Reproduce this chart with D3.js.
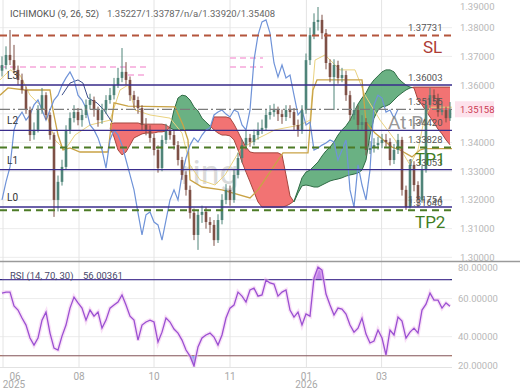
<!DOCTYPE html>
<html>
<head>
<meta charset="utf-8">
<script src="https://cdnjs.cloudflare.com/ajax/libs/d3/7.8.5/d3.min.js"></script>
<style>
  body { margin: 0; background: #fff; }
  svg { display: block; font-family: Roboto, "Noto Sans", sans-serif; }
</style>
</head>
<body>
<svg id="chart" width="520" height="390"></svg>
<script>
// ---- data (one bar = one slot, open = previous close) ----
var firstOpen = 1.3650;
var closes = [
  1.3670,1.3705,1.3687,1.3653,1.3618,1.3583,1.3513,1.3426,1.3444,1.3513,
  1.3565,1.3496,1.3426,1.3200,1.3263,1.3315,1.3444,1.3485,1.3506,1.3478,
  1.3496,1.3531,1.3548,1.3513,1.3478,1.3513,1.3548,1.3565,1.3600,1.3625,
  1.3646,1.3618,1.3565,1.3548,1.3520,1.3461,1.3444,1.3416,1.3374,1.3311,
  1.3409,1.3444,1.3426,1.3391,1.3339,1.3287,1.3235,1.3155,1.3078,1.3148,
  1.3158,1.3123,1.3113,1.3060,1.3130,1.3200,1.3235,1.3200,1.3287,1.3346,
  1.3391,1.3416,1.3402,1.3426,1.3444,1.3451,1.3496,1.3506,1.3513,1.3499,
  1.3489,1.3513,1.3506,1.3461,1.3444,1.3513,1.3687,1.3774,1.3820,1.3827,
  1.3781,1.3677,1.3628,1.3670,1.3625,1.3635,1.3565,1.3496,1.3513,1.3461,
  1.3471,1.3374,1.3381,1.3391,1.3398,1.3409,1.3402,1.3339,1.3374,1.3409,
  1.3235,1.3175,1.3322,1.3252,1.3200,1.3304,1.3531,1.3565,1.3555,1.3506,
  1.3513,1.3485,1.35158];
var highs = [
  1.3700,1.3735,1.3792,1.3740,1.3668,1.3640,1.3595,1.3525,1.3470,1.3530,
  1.3590,1.3575,1.3505,1.3435,1.3285,1.3340,1.3460,1.3505,1.3530,1.3520,
  1.3515,1.3550,1.3570,1.3560,1.3525,1.3535,1.3565,1.3590,1.3625,1.3660,
  1.3729,1.3680,1.3630,1.3580,1.3560,1.3530,1.3485,1.3460,1.3430,1.3390,
  1.3425,1.3465,1.3460,1.3440,1.3405,1.3350,1.3300,1.3250,1.3170,1.3165,
  1.3180,1.3175,1.3140,1.3130,1.3150,1.3220,1.3255,1.3250,1.3305,1.3365,
  1.3410,1.3440,1.3430,1.3445,1.3470,1.3480,1.3515,1.3530,1.3535,1.3525,
  1.3515,1.3530,1.3530,1.3520,1.3480,1.3530,1.3710,1.3800,1.3850,1.3872,
  1.3845,1.3795,1.3690,1.3690,1.3685,1.3660,1.3650,1.3580,1.3540,1.3530,
  1.3495,1.3485,1.3405,1.3415,1.3420,1.3430,1.3430,1.3415,1.3395,1.3430,
  1.3420,1.3250,1.3340,1.3335,1.3265,1.3320,1.3550,1.3590,1.3585,1.3570,
  1.3535,1.3525,1.3541];
var lows = [
  1.3630,1.3655,1.3670,1.3640,1.3600,1.3570,1.3500,1.3405,1.3410,1.3435,
  1.3500,1.3480,1.3410,1.3141,1.3160,1.3250,1.3305,1.3430,1.3470,1.3460,
  1.3455,1.3485,1.3515,1.3490,1.3455,1.3465,1.3500,1.3535,1.3550,1.3590,
  1.3610,1.3600,1.3545,1.3520,1.3500,1.3440,1.3425,1.3400,1.3355,1.3295,
  1.3300,1.3395,1.3410,1.3375,1.3320,1.3270,1.3215,1.3135,1.3060,1.3026,
  1.3120,1.3100,1.3085,1.3040,1.3050,1.3115,1.3185,1.3180,1.3190,1.3275,
  1.3330,1.3375,1.3385,1.3390,1.3410,1.3430,1.3440,1.3480,1.3490,1.3475,
  1.3465,1.3475,1.3485,1.3440,1.3420,1.3430,1.3500,1.3670,1.3760,1.3790,
  1.3760,1.3655,1.3610,1.3513,1.3605,1.3610,1.3545,1.3475,1.3480,1.3440,
  1.3445,1.3355,1.3360,1.3365,1.3375,1.3380,1.3385,1.3320,1.3325,1.3360,
  1.3215,1.3165,1.3170,1.3230,1.3175,1.3190,1.3295,1.3520,1.3540,1.3490,
  1.3495,1.3470,1.3475];
var rsiValues = [
  62.9,63.4,63.4,56.1,54.0,49.8,46.1,39.3,35.6,39.3,
  48.7,52.9,41.9,34.0,33.0,40.3,46.1,55.0,60.8,57.7,
  55.0,48.7,54.0,50.8,52.9,44.5,48.7,55.0,56.6,58.2,
  61.9,56.6,50.8,48.7,38.2,46.1,47.7,48.7,47.7,37.2,
  42.4,49.8,47.7,44.0,41.9,38.2,33.0,29.8,24.6,34.6,
  39.3,40.9,41.9,39.8,35.6,40.9,49.8,55.0,56.6,63.4,
  61.3,58.2,64.5,65.5,61.3,61.9,69.7,68.2,67.6,61.3,
  63.4,64.5,54.0,50.3,52.9,46.1,51.9,50.8,70.8,76.6,
  75.0,62.4,56.6,51.4,55.0,54.5,51.9,46.1,42.4,44.5,
  49.8,41.4,36.7,37.7,43.5,39.3,30.4,43.5,40.9,50.3,
  48.2,39.3,42.4,44.5,41.9,54.0,57.1,62.9,59.2,59.2,
  55.0,57.7,56.0];

// kumo spans, starting at bar cloudStart
var cloudStart = 27;
var spanA = [
  1.3451,1.3419,1.3374,1.3357,1.3367,1.3391,1.3416,1.3423,1.3430,1.3433,
  1.3433,1.3433,1.3437,1.3437,1.3440,1.3452,1.3513,1.3555,1.3565,1.3562,
  1.3548,1.3524,1.3510,1.3485,1.3471,1.3458,1.3444,1.3433,1.3426,1.3426,
  1.3423,1.3409,1.3374,1.3332,1.3297,1.3263,1.3228,1.3193,1.3175,1.3175,
  1.3175,1.3175,1.3175,1.3175,1.3179,1.3186,1.3196,1.3235,1.3277,1.3297,
  1.3304,1.3318,1.3332,1.3353,1.3371,1.3384,1.3402,1.3426,1.3444,1.3458,
  1.3478,1.3506,1.3534,1.3555,1.3573,1.3600,1.3618,1.3632,1.3646,1.3653,
  1.3653,1.3646,1.3625,1.3611,1.3600,1.3593,1.3590,1.3548,1.3531,1.3510,
  1.3489,1.3468,1.3447,1.3430,1.3409,1.3392];
var spanB = [
  1.3464,1.3468,1.3468,1.3468,1.3468,1.3468,1.3468,1.3468,1.3464,1.3464,
  1.3464,1.3464,1.3464,1.3464,1.3461,1.3451,1.3444,1.3444,1.3444,1.3444,
  1.3444,1.3444,1.3444,1.3444,1.3444,1.3444,1.3489,1.3489,1.3489,1.3489,
  1.3485,1.3464,1.3437,1.3409,1.3384,1.3367,1.3364,1.3364,1.3364,1.3364,
  1.3364,1.3364,1.3364,1.3357,1.3287,1.3214,1.3193,1.3224,1.3249,1.3252,
  1.3249,1.3245,1.3245,1.3252,1.3259,1.3266,1.3270,1.3273,1.3277,1.3283,
  1.3287,1.3290,1.3294,1.3304,1.3339,1.3426,1.3485,1.3513,1.3524,1.3527,
  1.3534,1.3548,1.3562,1.3573,1.3583,1.3590,1.3593,1.3593,1.3593,1.3593,
  1.3593,1.3593,1.3593,1.3593,1.3593,1.3593];

// [bar, price]
var kijun = [[-0.5,1.3565],[1.5,1.3590],[5.75,1.3583],[12,1.3583],[12.75,1.3513],[14,1.3426],
  [15.25,1.3374],[17,1.3381],[19.5,1.3367],[26.5,1.3367],[28,1.3538],[31.5,1.3527],[43.25,1.3524],
  [45.25,1.3461],[46.5,1.3409],[47,1.3270],[50,1.3245],[55,1.3235],[62,1.3207],[64,1.3235],
  [70.25,1.3364],[76.5,1.3364],[77.75,1.3583],[78.75,1.3618],[90,1.3618],[91,1.3471],[93.25,1.3433],
  [97.5,1.3384],[99.5,1.3374],[102.5,1.3350],[104.5,1.3374],[105.75,1.3379],[112.5,1.3379]];
var tenkan = [[-0.5,1.3618],[2,1.3653],[4.5,1.3635],[7,1.3565],[10.75,1.3513],[13.25,1.3409],
  [15.75,1.3374],[18.25,1.3426],[22,1.3461],[27,1.3478],[29.5,1.3583],[31.5,1.3600],[33.25,1.3513],
  [37,1.3496],[42,1.3485],[45,1.3433],[47,1.3322],[49.5,1.3270],[53.25,1.3252],[55.75,1.3287],
  [59.5,1.3374],[63.25,1.3409],[68.25,1.3444],[74.5,1.3461],[77,1.3478],[78.25,1.3687],[80.75,1.3705],
  [84.5,1.3653],[88.25,1.3653],[90.75,1.3565],[94.5,1.3478],[98.25,1.3409],[102,1.3322],[104,1.3374],
  [105.5,1.3478],[107,1.3523],[112.5,1.3523]];
var navyLine = [[15,1.3565],[17,1.3607],[19,1.3618],[20.25,1.3607],[21.5,1.3555],[23.75,1.3538],
  [25.5,1.3513],[27.5,1.3471]];
var chikouShift = 13;

// faint pink order lines: [price, fromBar, toBar]
var pinkDashes = [[1.3663,-0.5,36.5],[1.3635,31.5,36.5],[1.3694,57,65.25],[1.3663,57,65.25]];

var monthTicks = [0.25, 19.25, 38, 57, 76.1, 94.9];
var monthLabels = ["06","08","10","11","01","03"];
var yearLabels = ["2025","","","","2026",""];
var priceTicks = [1.30,1.31,1.32,1.33,1.34,1.35,1.36,1.37,1.38,1.39];
var rsiTicks = [20,40,60,80];
var rsiBands = [70, 30];

var levelNames = ["L3","L2","L1","L0"];
var levelPrices = [1.36003,1.34420,1.33053,1.31754];
var targetNames = ["SL","TP1","TP2"];
var targetPrices = [1.37731,1.33828,1.31640];
var markPrice = 1.35155;
var lastPrice = 1.35158;
var entryLabel = "At P";
var ichimokuTitle = "ICHIMOKU (9, 26, 52)";
var ichimokuValues = ["1.35227","1.33787","n/a","1.33920","1.35408"];
var rsiTitle = "RSI (14, 70, 30)";
var rsiLast = "56.00361";

// ---- scales ----
var x = d3.scaleLinear().domain([0, 112]).range([2, 450]);
var y = d3.scaleLinear().domain([1.29873, 1.38964]).range([261, 0]);
var yr = d3.scaleLinear().domain([24.1, 79.2]).range([367, 262]);
var left = x(-0.5), right = x(112.5);
var mainBottom = 261, rsiTop = 262, rsiBottom = 367;
var fmt5 = d3.format(".5f");

var svg = d3.select("#chart");
var defs = svg.append("defs");
defs.append("clipPath").attr("id", "mainClip").append("rect")
    .attr("x", left).attr("y", 0).attr("width", right - left).attr("height", mainBottom);
defs.append("clipPath").attr("id", "rsiClip").append("rect")
    .attr("x", left).attr("y", rsiTop).attr("width", right - left).attr("height", rsiBottom - rsiTop);
defs.append("clipPath").attr("id", "overClip").append("rect")
    .attr("x", left).attr("y", rsiTop).attr("width", right - left).attr("height", yr(rsiBands[0]) - rsiTop);
defs.append("clipPath").attr("id", "underClip").append("rect")
    .attr("x", left).attr("y", yr(rsiBands[1])).attr("width", right - left).attr("height", rsiBottom - yr(rsiBands[1]));

// ---- grid ----
var grid = svg.append("g");
grid.selectAll(".hg").data(priceTicks.filter(function (p) { return y(p) > 2; }))
  .enter().append("line")
    .attr("x1", left).attr("x2", right)
    .attr("y1", function (d) { return y(d); }).attr("y2", function (d) { return y(d); })
    .attr("stroke", "#ececec");
grid.selectAll(".rg").data([40, 60])
  .enter().append("line")
    .attr("x1", left).attr("x2", right)
    .attr("y1", function (d) { return yr(d); }).attr("y2", function (d) { return yr(d); })
    .attr("stroke", "#ececec");
grid.selectAll(".vg").data(monthTicks)
  .enter().append("line")
    .attr("x1", function (d) { return x(d); }).attr("x2", function (d) { return x(d); })
    .attr("y1", 0).attr("y2", rsiBottom)
    .attr("stroke", "#e4e4e4");

// watermark
svg.append("text").attr("x", 181).attr("y", 184)
    .attr("font-size", 34).attr("fill", "#dadada").text("ring");

var plot = svg.append("g").attr("clip-path", "url(#mainClip)");

// ---- kumo ----
var pts = [];
spanA.forEach(function (a, i) {
    var b = spanB[i], bar = cloudStart + i;
    if (i > 0) {
        var d0 = spanA[i - 1] - spanB[i - 1], d1 = a - b;
        if (d0 * d1 < 0) {
            var t = d0 / (d0 - d1);
            var v = spanA[i - 1] + t * (a - spanA[i - 1]);
            pts.push({bar: bar - 1 + t, a: v, b: v, cross: true});
        }
    }
    pts.push({bar: bar, a: a, b: b});
});
var runs = [], cur = null;
pts.forEach(function (p) {
    if (p.cross) {
        if (cur) cur.pts.push(p);
        cur = {green: null, pts: [p]};
        runs.push(cur);
        return;
    }
    var g = p.a >= p.b;
    if (!cur) { cur = {green: g, pts: [p]}; runs.push(cur); return; }
    if (cur.green === null) cur.green = g;
    cur.pts.push(p);
});

var kumoArea = d3.area()
    .x(function (d) { return x(d.bar); })
    .y0(function (d) { return y(d.b); })
    .y1(function (d) { return y(d.a); });
var lineA = d3.line().x(function (d) { return x(d.bar); }).y(function (d) { return y(d.a); });
var lineB = d3.line().x(function (d) { return x(d.bar); }).y(function (d) { return y(d.b); });

var kumo = plot.append("g");
runs.forEach(function (r) {
    kumo.append("path").attr("d", kumoArea(r.pts))
        .attr("fill", r.green ? "#62ad7c" : "#f16c6c").attr("fill-opacity", 0.95);
    kumo.append("path").attr("d", lineA(r.pts)).attr("fill", "none")
        .attr("stroke", r.green ? "#2f6b45" : "#a5473f").attr("stroke-width", 1);
    kumo.append("path").attr("d", lineB(r.pts)).attr("fill", "none")
        .attr("stroke", r.green ? "#2f6b45" : "#a5473f").attr("stroke-width", 1);
});

// pink old order lines
plot.selectAll(".pink").data(pinkDashes)
  .enter().append("line")
    .attr("x1", function (d) { return x(d[1]); }).attr("x2", function (d) { return x(d[2]); })
    .attr("y1", function (d) { return y(d[0]); }).attr("y2", function (d) { return y(d[0]); })
    .attr("stroke", "#f6a6da").attr("stroke-width", 1.5).attr("stroke-dasharray", "6,4");

// ---- ichimoku lines ----
var pairLine = d3.line().x(function (d) { return x(d[0]); }).y(function (d) { return y(d[1]); });
plot.append("path").attr("d", pairLine(tenkan)).attr("fill", "none")
    .attr("stroke", "#ead27f").attr("stroke-width", 1);
plot.append("path").attr("d", pairLine(kijun)).attr("fill", "none")
    .attr("stroke", "#c9a346").attr("stroke-width", 1.3);
plot.append("path").attr("d", pairLine(navyLine)).attr("fill", "none")
    .attr("stroke", "#3c4f8c").attr("stroke-width", 1);

// chikou: close drawn chikouShift bars back
var chikou = closes.slice(chikouShift);
plot.append("path")
    .attr("d", d3.line().x(function (d, i) { return x(i); }).y(function (d) { return y(d); })(chikou))
    .attr("fill", "none").attr("stroke", "#6f93d8").attr("stroke-width", 1.2);

// ---- candles ----
var bars = closes.map(function (c, i) {
    return {i: i, o: i ? closes[i - 1] : firstOpen, c: c, h: highs[i], l: lows[i]};
});
var bull = "#4f8479", bear = "#7e5046";
var cg = plot.append("g");
cg.selectAll("line").data(bars).enter().append("line")
    .attr("x1", function (d) { return x(d.i); }).attr("x2", function (d) { return x(d.i); })
    .attr("y1", function (d) { return y(d.h); }).attr("y2", function (d) { return y(d.l); })
    .attr("stroke", function (d) { return d.c >= d.o ? bull : bear; }).attr("stroke-width", 1);
cg.selectAll("rect").data(bars).enter().append("rect")
    .attr("x", function (d) { return x(d.i) - 1.3; }).attr("width", 2.6)
    .attr("y", function (d) { return y(Math.max(d.o, d.c)); })
    .attr("height", function (d) { return Math.max(1, Math.abs(y(d.o) - y(d.c))); })
    .attr("fill", function (d) { return d.c >= d.o ? bull : bear; });

// ---- level lines ----
var lv = svg.append("g");
lv.selectAll(".lvl").data(levelPrices).enter().append("line")
    .attr("x1", left).attr("x2", right)
    .attr("y1", function (d) { return y(d); }).attr("y2", function (d) { return y(d); })
    .attr("stroke", "#3a2d8c").attr("stroke-width", 1.3);
lv.append("line").attr("x1", left).attr("x2", right)
    .attr("y1", y(markPrice)).attr("y2", y(markPrice))
    .attr("stroke", "#7c7c7c").attr("stroke-width", 1.2).attr("stroke-dasharray", "10,3,2,3");
lv.selectAll(".tgt").data(targetPrices).enter().append("line")
    .attr("x1", left).attr("x2", right)
    .attr("y1", function (d) { return y(d); }).attr("y2", function (d) { return y(d); })
    .attr("stroke", function (d, i) { return i === 0 ? "#b4553c" : "#4d7b27"; })
    .attr("stroke-width", 2).attr("stroke-dasharray", "7,5");

// level names on the left
lv.selectAll(".lname").data(levelNames).enter().append("text")
    .attr("x", 7).attr("y", function (d, i) { return y(levelPrices[i]) - 6; })
    .attr("font-size", 10).attr("fill", "#333").text(function (d) { return d; });

// price tags on the lines
var tagPrices = [targetPrices[0], levelPrices[0], markPrice, levelPrices[1], targetPrices[1],
                 levelPrices[2], levelPrices[3], targetPrices[2]];
lv.selectAll(".tag").data(tagPrices).enter().append("text")
    .attr("x", 408).attr("y", function (d) { return y(d) - 4; })
    .attr("font-size", 9.5).attr("fill", "#555").text(function (d) { return fmt5(d); });

lv.append("text").attr("x", 388).attr("y", y(levelPrices[1]) - 1)
    .attr("font-size", 19).attr("fill", "#8a8a8a").attr("fill-opacity", 0.9).text(entryLabel);

lv.selectAll(".tname").data(targetNames).enter().append("text")
    .attr("x", function (d, i) { return i === 0 ? 423 : 415; })
    .attr("y", function (d, i) { return y(targetPrices[i]) + 18; })
    .attr("font-size", 17)
    .attr("fill", function (d, i) { return i === 0 ? "#ad3b35" : "#3f7d1f"; })
    .text(function (d) { return d; });

// ---- right price axis ----
var ax = svg.append("g");
ax.selectAll(".pt").data(priceTicks.filter(function (p) { return Math.abs(y(p) - y(lastPrice)) > 10; }))
  .enter().append("text")
    .attr("x", 460).attr("y", function (d) { return Math.max(6, Math.min(257, y(d))) + 3.5; })
    .attr("font-size", 9.5).attr("fill", "#b8b8b8").text(function (d) { return fmt5(d); });
ax.append("rect").attr("x", 455).attr("y", y(lastPrice) - 8).attr("width", 39).attr("height", 16)
    .attr("fill", "#fde2ec");
ax.append("text").attr("x", 460).attr("y", y(lastPrice) + 3.5)
    .attr("font-size", 9.5).attr("fill", "#cc3a52").text(fmt5(lastPrice));

// header
svg.append("text").attr("x", 10).attr("y", 16.5).attr("font-size", 9.5).attr("fill", "#555")
    .text(ichimokuTitle);
svg.append("text").attr("x", 107).attr("y", 16.5).attr("font-size", 9.5).attr("fill", "#666")
    .text(ichimokuValues.join("/"));

// separator
svg.append("line").attr("x1", 0).attr("x2", 520).attr("y1", 261.5).attr("y2", 261.5)
    .attr("stroke", "#9a9a9a").attr("stroke-width", 1.5);
svg.append("line").attr("x1", 0).attr("x2", right).attr("y1", rsiBottom + 0.5).attr("y2", rsiBottom + 0.5)
    .attr("stroke", "#e2e2e2");

// ---- RSI ----
var rg = svg.append("g");
rg.selectAll(".band").data(rsiBands).enter().append("line")
    .attr("x1", left).attr("x2", right)
    .attr("y1", function (d) { return yr(d); }).attr("y2", function (d) { return yr(d); })
    .attr("stroke", function (d, i) { return i === 0 ? "#2e2a7c" : "#8a4a3c"; })
    .attr("stroke-width", 1.2);

var rsiLine = d3.line().x(function (d, i) { return x(i); }).y(function (d) { return yr(d); });
rg.append("path").attr("clip-path", "url(#overClip)")
    .attr("d", d3.area().x(function (d, i) { return x(i); })
        .y0(yr(rsiBands[0])).y1(function (d) { return yr(d); })(rsiValues))
    .attr("fill", "#c286ea");
rg.append("path").attr("clip-path", "url(#underClip)")
    .attr("d", d3.area().x(function (d, i) { return x(i); })
        .y0(yr(rsiBands[1])).y1(function (d) { return yr(d); })(rsiValues))
    .attr("fill", "#8aa5ea");
var rl = rg.append("g").attr("clip-path", "url(#rsiClip)");
rl.append("path").attr("d", rsiLine(rsiValues)).attr("fill", "none")
    .attr("stroke", "#f3c2ef").attr("stroke-width", 4).attr("stroke-opacity", 0.5);
rl.append("path").attr("d", rsiLine(rsiValues)).attr("fill", "none")
    .attr("stroke", "#9a50d2").attr("stroke-width", 1.3);

rg.append("text").attr("x", 10).attr("y", 278.5).attr("font-size", 9.5).attr("fill", "#48486a")
    .text(rsiTitle);
rg.append("text").attr("x", 83).attr("y", 278.5).attr("font-size", 9.5).attr("fill", "#48486a")
    .text(rsiLast);

rg.selectAll(".rt").data(rsiTicks).enter().append("text")
    .attr("x", 458).attr("y", function (d) { return Math.max(267, Math.min(365, yr(d))) + 3.5; })
    .attr("font-size", 9.5).attr("fill", "#b8b8b8").text(function (d) { return d3.format(".5f")(d); });

// ---- time axis ----
var tx = svg.append("g").attr("font-size", 10).attr("fill", "#a8a8a8").attr("text-anchor", "middle");
tx.selectAll(".mt").data(monthLabels).enter().append("text")
    .attr("x", function (d, i) { return Math.max(15, x(monthTicks[i])); }).attr("y", 379.5)
    .text(function (d) { return d; });
tx.selectAll(".yt").data(yearLabels).enter().append("text")
    .attr("x", function (d, i) { return Math.max(14, x(monthTicks[i])); }).attr("y", 388)
    .text(function (d) { return d; });
</script>
</body>
</html>
